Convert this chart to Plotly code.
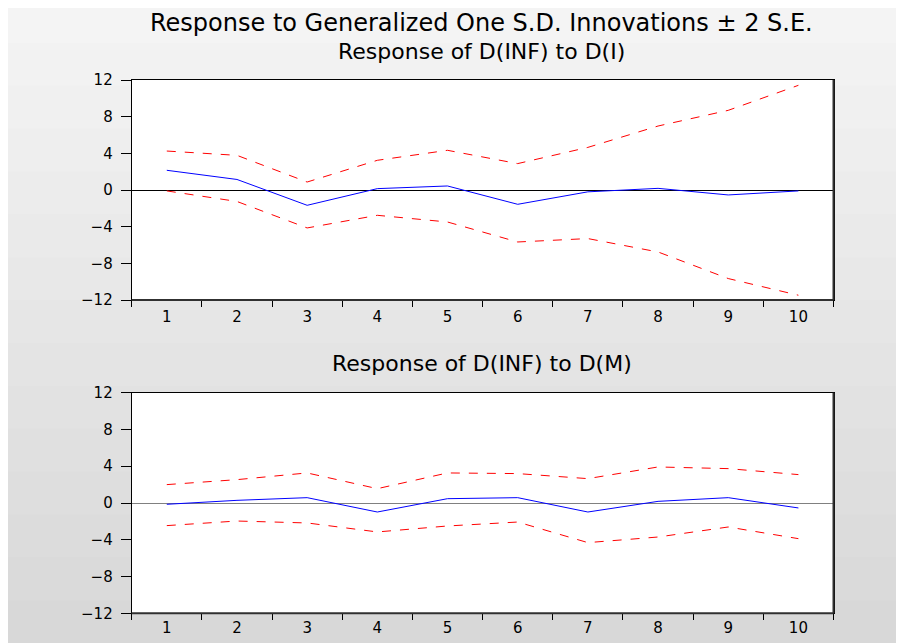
import plotly.graph_objects as go

periods = [1, 2, 3, 4, 5, 6, 7, 8, 9, 10]

# Response of D(INF) to D(I)
resp_i = [2.15, 1.15, -1.67, 0.15, 0.44, -1.56, -0.2, 0.18, -0.54, -0.1]
upper_i = [4.25, 3.78, 0.87, 3.24, 4.33, 2.88, 4.65, 6.98, 8.69, 11.42]
lower_i = [-0.1, -1.25, -4.14, -2.76, -3.49, -5.67, -5.3, -6.76, -9.66, -11.48]

# Response of D(INF) to D(M)
resp_m = [-0.14, 0.29, 0.58, -0.98, 0.47, 0.58, -0.98, 0.18, 0.58, -0.54]
upper_m = [2.0, 2.54, 3.27, 1.56, 3.27, 3.2, 2.65, 3.92, 3.74, 3.09]
lower_m = [-2.46, -1.96, -2.17, -3.15, -2.5, -2.07, -4.31, -3.7, -2.61, -3.88]

y_ticks = [-12, -8, -4, 0, 4, 8, 12]

main_title = "Response to Generalized One S.D. Innovations \u00b1 2 S.E."
sub1 = "Response of D(INF) to D(I)"
sub2 = "Response of D(INF) to D(M)"

OFF = 8            # page body margin
W, H = 904 - 2 * OFF, 643 - OFF
FONT = "DejaVu Sans"

def px(s):   # screen x -> paper fraction
    return (s - OFF) / W

def py(s):   # screen y -> paper fraction
    return 1 - (s - OFF) / H

fig = go.Figure()

def add_panel(xa, ya, resp, up, lo):
    fig.add_trace(go.Scatter(x=periods, y=up, mode="lines", xaxis=xa, yaxis=ya,
                             line=dict(color="#ff0000", width=1, dash="dash"), showlegend=False))
    fig.add_trace(go.Scatter(x=periods, y=lo, mode="lines", xaxis=xa, yaxis=ya,
                             line=dict(color="#ff0000", width=1, dash="dash"), showlegend=False))
    fig.add_trace(go.Scatter(x=periods, y=resp, mode="lines", xaxis=xa, yaxis=ya,
                             line=dict(color="#0000ff", width=1), showlegend=False))

add_panel("x", "y", resp_i, upper_i, lower_i)
add_panel("x2", "y2", resp_m, upper_m, lower_m)

xd = [px(131.7), px(833.5)]
top_dom = [py(300), py(80)]
bot_dom = [py(613.3), py(392.7)]

def xaxis_cfg(anchor, standoff):
    return dict(domain=xd, anchor=anchor, range=[0.5, 10.5], automargin=False,
                tickvals=periods, ticktext=[str(p) for p in periods],
                ticks="outside", ticklen=0, ticklabelstandoff=standoff,
                showgrid=False, zeroline=False,
                showline=True, mirror=True, linecolor="black", linewidth=1,
                tickfont=dict(family=FONT, size=15, color="black"),
                minor=dict(tick0=0.5, dtick=1, ticks="outside", ticklen=6,
                           tickcolor="black", tickwidth=1, showgrid=False))

def yaxis_cfg(anchor, dom, zcolor):
    return dict(domain=dom, anchor=anchor, range=[-12, 12], tickvals=y_ticks,
                automargin=False, ticklabelstandoff=5,
                ticks="outside", ticklen=10, tickcolor="black", showgrid=False,
                zeroline=True, zerolinecolor=zcolor, zerolinewidth=1,
                showline=True, mirror=True, linecolor="black", linewidth=1,
                tickfont=dict(family=FONT, size=15, color="black"))

fig.update_layout(
    width=W, height=H,
    margin=dict(l=0, r=0, t=0, b=0, autoexpand=False),
    paper_bgcolor="#f4f4f4", plot_bgcolor="white",
    xaxis=xaxis_cfg("y", 3), yaxis=yaxis_cfg("x", top_dom, "black"),
    xaxis2=xaxis_cfg("y2", 1), yaxis2=yaxis_cfg("x2", bot_dom, "#808080"),
    font=dict(family=FONT, color="black"),
)

# vertical gradient of the background, light at the top, darker at the bottom
shade_start, shade_end = 0, 643
c0, c1 = 0xf5, 0xd7
n = 30
for i in range(n):
    s0 = shade_start + (shade_end - shade_start) * i / n
    c = int(round(c0 + (c1 - c0) * (i + 0.5) / n))
    fig.add_shape(type="rect", xref="paper", yref="paper", x0=0, x1=1,
                  y0=0, y1=min(1, py(s0)),
                  fillcolor="#%02x%02x%02x" % (c, c, c), line=dict(width=0), layer="below")

# white plotting areas on top of the gradient
for dom in (top_dom, bot_dom):
    fig.add_shape(type="rect", xref="paper", yref="paper", x0=xd[0], x1=xd[1],
                  y0=dom[0], y1=dom[1], fillcolor="white", line=dict(width=0), layer="below")

# darker frame edge (shadow) on right and bottom sides
for xr, yr in (("x domain", "y domain"), ("x2 domain", "y2 domain")):
    fig.add_shape(type="line", xref=xr, yref=yr, x0=1, x1=1, y0=0, y1=1,
                  line=dict(color="#303030", width=2))
    fig.add_shape(type="line", xref=xr, yref=yr, x0=0, x1=1, y0=0, y1=0,
                  line=dict(color="#303030", width=2))

fig.add_annotation(text=main_title, xref="paper", yref="paper", x=px(481), y=py(23),
                   showarrow=False, font=dict(family=FONT, size=24, color="black"),
                   xanchor="center", yanchor="middle", borderpad=0)
fig.add_annotation(text=sub1, xref="paper", yref="paper", x=px(481), y=py(51),
                   showarrow=False, font=dict(family=FONT, size=22, color="black"),
                   xanchor="center", yanchor="middle", borderpad=0)
fig.add_annotation(text=sub2, xref="paper", yref="paper", x=px(482), y=py(363),
                   showarrow=False, font=dict(family=FONT, size=22, color="black"),
                   xanchor="center", yanchor="middle", borderpad=0)

fig.write_html("out.html")
